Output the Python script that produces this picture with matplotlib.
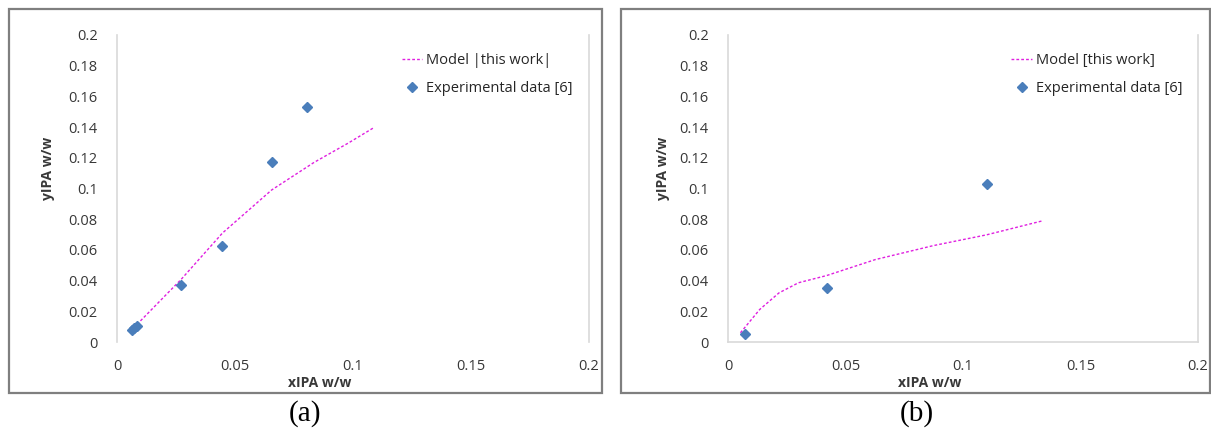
import matplotlib
matplotlib.use("Agg")
import matplotlib.pyplot as plt
from matplotlib.patches import Rectangle

plt.rcParams['font.family'] = ['Open Sans', 'DejaVu Sans']

# panel (a)
exp_x_a = [0.0062, 0.0072, 0.0083, 0.0273, 0.0447, 0.0655, 0.0807]
exp_y_a = [0.0075, 0.0088, 0.0102, 0.0373, 0.0628, 0.1170, 0.1534]
model_x_a = [0.0085, 0.0273, 0.0447, 0.0655, 0.0835, 0.098, 0.109]
model_y_a = [0.0115, 0.041, 0.071, 0.099, 0.117, 0.1296, 0.1398]

# panel (b)
exp_x_b = [0.0072, 0.042, 0.110]
exp_y_b = [0.0052, 0.0351, 0.103]
model_x_b = [0.0053, 0.0135, 0.0217, 0.030, 0.042, 0.0627, 0.0874, 0.110, 0.134]
model_y_b = [0.006, 0.0212, 0.032, 0.0386, 0.0433, 0.0537, 0.0628, 0.0698, 0.079]

x_ticks = [0, 0.05, 0.1, 0.15, 0.2]
x_labels = ["0", "0.05", "0.1", "0.15", "0.2"]
y_ticks = [0, 0.02, 0.04, 0.06, 0.08, 0.1, 0.12, 0.14, 0.16, 0.18, 0.2]
y_labels = ["0", "0.02", "0.04", "0.06", "0.08", "0.1", "0.12", "0.14", "0.16", "0.18", "0.2"]

W, H = 1211, 432
fig = plt.figure(figsize=(W / 100, H / 100), dpi=100)

blue = '#4a7ebb'
pink = '#e020e0'
grey = '#d9d9d9'


def panel(left_px, right_px, mx, my, ex, ey, model_label, bottom_line, frame, tag, tag_x, ylab_x):
    ax = fig.add_axes([left_px / W, 1 - 342 / H, (right_px - left_px) / W, (342 - 35) / H])
    ax.plot(mx, my, linestyle=(0, (2, 1.5)), color=pink, lw=1.0, label=model_label)
    ax.plot(ex, ey, linestyle='none', marker='D', ms=5.5, color=blue, label='Experimental data [6]')
    ax.set_xlim(0, 0.2)
    ax.set_ylim(0, 0.2)
    ax.set_xticks(x_ticks)
    ax.set_xticklabels(x_labels)
    ax.set_yticks(y_ticks)
    ax.set_yticklabels(y_labels)
    ax.tick_params(length=0, labelsize=10.5, colors='#383838', pad=14)
    ax.tick_params(axis='x', pad=12)
    for s in ['left', 'right', 'bottom']:
        ax.spines[s].set_color(grey)
        ax.spines[s].set_linewidth(1.2)
    ax.spines['top'].set_visible(False)
    ax.spines['bottom'].set_visible(bottom_line)
    ax.text(0.43, -0.135, 'xIPA w/w', transform=ax.transAxes, ha='center', va='center',
            fontsize=10, fontweight='bold', color='#383838')
    ax.text(ylab_x, 0.565, 'yIPA w/w', transform=ax.transAxes, ha='center', va='center',
            rotation=90, fontsize=10, fontweight='bold', color='#383838')
    leg = ax.legend(loc='upper left', bbox_to_anchor=(0.575, 0.985), frameon=False, fontsize=10.5,
                    handlelength=1.4, handletextpad=0.3, labelspacing=0.9)
    for t in leg.get_texts():
        t.set_color('#262626')
    fig.add_artist(Rectangle((frame[0] / W, 1 - frame[3] / H), (frame[2] - frame[0]) / W,
                             (frame[3] - frame[1]) / H, transform=fig.transFigure,
                             fill=False, edgecolor='#7f7f7f', lw=1.6))
    fig.text(tag_x / W, 1 - 414 / H, tag, ha='center', va='center',
             family=['Liberation Serif'], fontsize=21)
    return ax


panel(117, 589, model_x_a, model_y_a, exp_x_a, exp_y_a, 'Model |this work|', False,
      (8.5, 8.5, 602, 393), '(a)', 305, -0.146)
panel(728, 1198, model_x_b, model_y_b, exp_x_b, exp_y_b, 'Model [this work]', True,
      (620.5, 8.5, 1210, 393), '(b)', 917, -0.138)

fig.savefig('out.png', dpi=100)
